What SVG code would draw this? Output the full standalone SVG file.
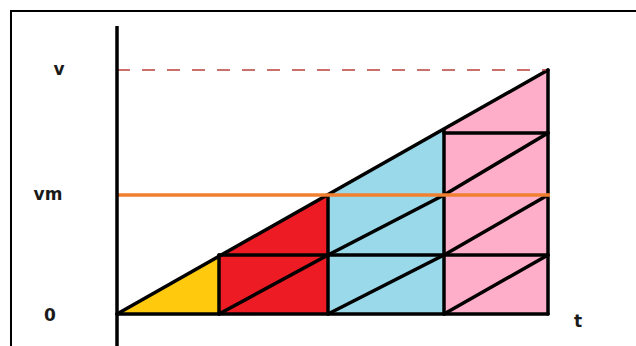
<svg xmlns="http://www.w3.org/2000/svg" width="636" height="346" viewBox="0 0 636 346">
<style>
.lbl{font-family:"DejaVu Sans","Liberation Sans",sans-serif;font-weight:bold;font-size:17px;fill:#1a1a1a;text-anchor:middle}
.ln{stroke:#000;stroke-width:3.5;stroke-linecap:round;fill:none}
</style>
<rect width="636" height="346" fill="#fff"/>
<path d="M11,346 V11 H636" fill="none" stroke="#000" stroke-width="2"/>
<g id="fills">
<polygon points="117,314 219,255 219,314" fill="#FFC90E"/>
<polygon points="219,314 219,255 328,195 328,314" fill="#ED1C24"/>
<polygon points="328,314 328,195 444,130 444,314" fill="#99D9EA"/>
<polygon points="444,314 444,130 548,70 548,314" fill="#FFAEC9"/>
</g>
<g id="connectors">
<line class="ln" x1="117" y1="314" x2="548" y2="314"/>
<line class="ln" x1="117" y1="314" x2="548" y2="70"/>
<line class="ln" x1="219" y1="255" x2="219" y2="314"/>
<line class="ln" x1="328" y1="195" x2="328" y2="314"/>
<line class="ln" x1="444" y1="130" x2="444" y2="314"/>
<line class="ln" x1="548" y1="70" x2="548" y2="314"/>
<line class="ln" x1="219" y1="255" x2="548" y2="255"/>
<line class="ln" x1="444" y1="133" x2="548" y2="133"/>
<line class="ln" x1="219" y1="314" x2="328" y2="255"/>
<line class="ln" x1="328" y1="314" x2="444" y2="255"/>
<line class="ln" x1="328" y1="255" x2="444" y2="195"/>
<line class="ln" x1="444" y1="314" x2="548" y2="255"/>
<line class="ln" x1="444" y1="255" x2="548" y2="195"/>
<line class="ln" x1="444" y1="195" x2="548" y2="133"/>
<line x1="117" y1="195" x2="550" y2="195" stroke="#F08030" stroke-width="3.5"/>
<line x1="117" y1="70" x2="546" y2="70" stroke="#B8403C" stroke-width="1.4" stroke-dasharray="13,12"/>
<line x1="117" y1="26" x2="117" y2="346" stroke="#000" stroke-width="3.5"/>
</g>
<g id="labels">
<text class="lbl" x="59" y="75">v</text>
<text class="lbl" x="48" y="200">vm</text>
<text class="lbl" x="50" y="321">0</text>
<text class="lbl" x="578" y="327">t</text>
</g>
</svg>
